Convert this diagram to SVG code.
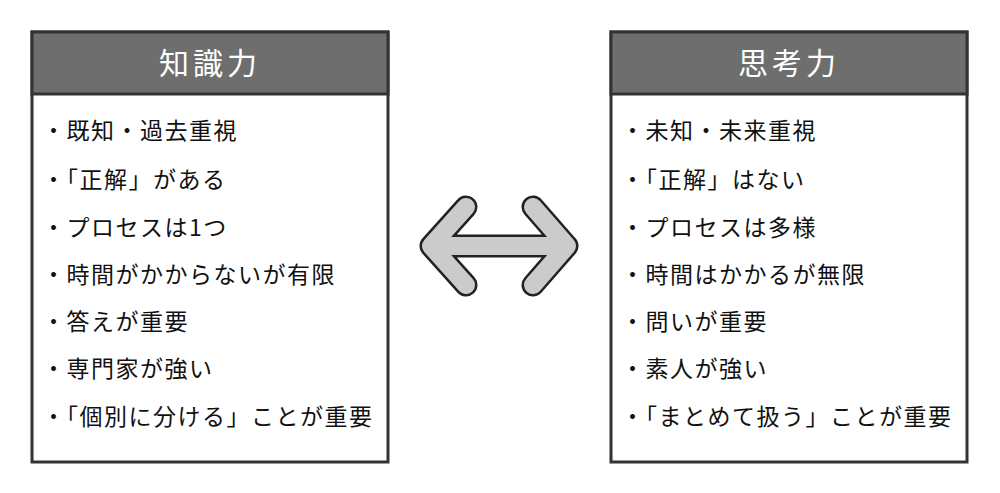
<svg xmlns="http://www.w3.org/2000/svg" width="1000" height="493" viewBox="0 0 1000 493">
<style>
.box{fill:#fff;stroke:#333;stroke-width:3}
.hd{fill:#6e6e6e;stroke:#333;stroke-width:3}
.ttl{font-family:"Noto Sans CJK JP","Noto Sans",sans-serif;font-size:30px;fill:#fff;text-anchor:middle;letter-spacing:4px}
.it{font-family:"Noto Sans CJK JP","Noto Sans",sans-serif;font-size:23px;fill:#111;letter-spacing:1.5px}
.ao{fill:none;stroke:#222;stroke-width:23;stroke-linecap:round;stroke-linejoin:round}
.af{fill:none;stroke:#cbcbcb;stroke-width:18;stroke-linecap:round;stroke-linejoin:round}
</style>
<rect width="1000" height="493" fill="#fff"/>
<g id="left">
<rect class="box" x="32" y="32" width="356" height="430"/>
<rect class="hd" x="32" y="32" width="356" height="62"/>
<text class="ttl" x="210" y="74">知識力</text>
<text class="it" x="42" y="139">・既知・過去重視</text>
<text class="it" x="42" y="188">・「正解」がある</text>
<text class="it" x="42" y="236">・プロセスは1つ</text>
<text class="it" x="42" y="283">・時間がかからないが有限</text>
<text class="it" x="42" y="330">・答えが重要</text>
<text class="it" x="42" y="377">・専門家が強い</text>
<text class="it" x="42" y="425">・「個別に分ける」ことが重要</text>
</g>
<g id="right">
<rect class="box" x="611" y="32" width="356" height="430"/>
<rect class="hd" x="611" y="32" width="356" height="62"/>
<text class="ttl" x="789" y="74">思考力</text>
<text class="it" x="621" y="139">・未知・未来重視</text>
<text class="it" x="621" y="188">・「正解」はない</text>
<text class="it" x="621" y="236">・プロセスは多様</text>
<text class="it" x="621" y="283">・時間はかかるが無限</text>
<text class="it" x="621" y="330">・問いが重要</text>
<text class="it" x="621" y="377">・素人が強い</text>
<text class="it" x="621" y="425">・「まとめて扱う」ことが重要</text>
</g>
<g id="connectors">
<path class="ao" d="M466,207 L431,246 L466,285 M431,246 L567,246 M533,207 L567,246 L533,285"/>
<path class="af" d="M466,207 L431,246 L466,285 M431,246 L567,246 M533,207 L567,246 L533,285"/>
</g>
</svg>
